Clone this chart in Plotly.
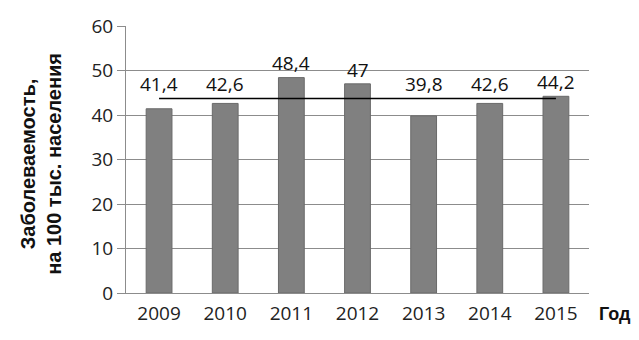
import plotly.graph_objects as go

years = ["2009", "2010", "2011", "2012", "2013", "2014", "2015"]
values = [41.4, 42.6, 48.4, 47, 39.8, 42.6, 44.2]
labels = ["41,4", "42,6", "48,4", "47", "39,8", "42,6", "44,2"]
y_ticks = [0, 10, 20, 30, 40, 50, 60]
y_title = "Заболеваемость,<br>на 100 тыс. населения"
x_title = "Год"

mean_val = sum(values) / len(values)

fig = go.Figure()
fig.add_trace(go.Bar(
    x=years, y=values, width=0.39,
    marker=dict(color="#808080", line=dict(color="#6a6a6a", width=1)),
    hoverinfo="skip",
))
fig.add_trace(go.Scatter(
    x=[years[0], years[-1]], y=[mean_val, mean_val], mode="lines",
    line=dict(color="#000000", width=1.5), hoverinfo="skip",
))

for i, (v, t) in enumerate(zip(values, labels)):
    fig.add_annotation(
        x=i, y=max(v, mean_val) + 3.2, text=t, showarrow=False,
        font=dict(family="Open Sans", size=19, color="#111111"),
        yanchor="middle", xanchor="center",
    )

fig.add_annotation(
    xref="paper", yref="paper", x=-0.185, y=0.485, text="<b>" + y_title + "</b>",
    textangle=-90, showarrow=False,
    font=dict(family="Liberation Sans", size=20, color="#111111"),
    xanchor="center", yanchor="middle",
)
fig.add_annotation(
    xref="paper", yref="paper", x=1.057, y=-0.078, text="<b>" + x_title + "</b>",
    showarrow=False,
    font=dict(family="Liberation Sans", size=18, color="#111111"),
    xanchor="center", yanchor="middle",
)

fig.update_layout(
    width=639, height=340,
    margin=dict(l=126, r=50, t=26, b=47),
    paper_bgcolor="white", plot_bgcolor="white",
    showlegend=False,
    xaxis=dict(
        type="category", categoryarray=years, range=[-0.5, 6.5],
        showline=True, linecolor="#8c8c8c", linewidth=1,
        showgrid=False, ticks="", ticklabelstandoff=3,
        tickfont=dict(family="Open Sans", size=19, color="#222222"),
    ),
    yaxis=dict(
        range=[0, 60], tickvals=y_ticks, showline=True, linecolor="#8c8c8c",
        linewidth=1, showgrid=True, gridcolor="#8c8c8c", gridwidth=1,
        ticks="outside", ticklen=8, tickcolor="#8c8c8c", zeroline=False,
        tickfont=dict(family="Open Sans", size=19, color="#222222"),
    ),
)

fig.write_html("out.html")
